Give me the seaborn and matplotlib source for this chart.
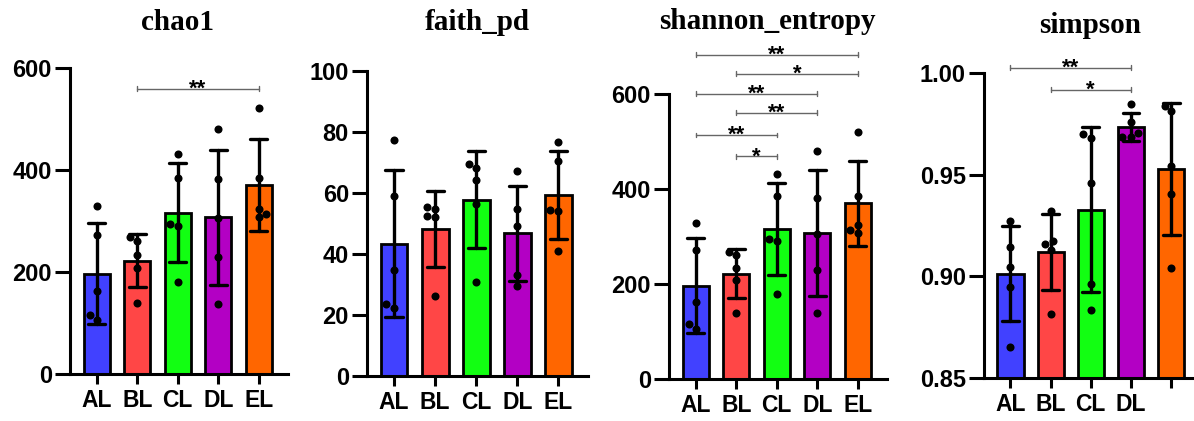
import pandas as pd
import matplotlib.pyplot as plt
import seaborn as sns

# groupes et couleurs
groups = ['AL', 'BL', 'CL', 'DL', 'EL']
colors = ['#4141FF', '#FF4646', '#12FF12', '#B300C4', '#FF6600']

# valeurs (5 échantillons par groupe)
chao1 = {
    'AL': [329, 272, 162, 106, 115],
    'BL': [268, 261, 234, 208, 139],
    'CL': [431, 385, 294, 290, 180],
    'DL': [481, 382, 305, 230, 138],
    'EL': [521, 385, 324, 307, 314],
}
faith_pd = {
    'AL': [77.5, 58.9, 34.9, 22.4, 23.5],
    'BL': [55.4, 54.9, 52.6, 52.1, 26.1],
    'CL': [69.6, 68.2, 64.2, 56.3, 30.8],
    'DL': [67.2, 54.9, 49.2, 33.0, 29.4],
    'EL': [76.7, 70.5, 54.5, 54.0, 41.0],
}
shannon_entropy = {
    'AL': [329, 272, 162, 106, 115],
    'BL': [268, 261, 234, 208, 139],
    'CL': [431, 385, 294, 290, 180],
    'DL': [481, 382, 305, 230, 138],
    'EL': [521, 385, 324, 307, 314],
}
simpson = {
    'AL': [0.9272, 0.9144, 0.9046, 0.8948, 0.8652],
    'BL': [0.9321, 0.9157, 0.9174, 0.9128, 0.8816],
    'CL': [0.9698, 0.9682, 0.9459, 0.8964, 0.8833],
    'DL': [0.9846, 0.9757, 0.9685, 0.9685, 0.9705],
    'EL': [0.9836, 0.9811, 0.9543, 0.9403, 0.9043],
}

# comparaisons significatives : (groupe1, groupe2, hauteur, étoiles)
sig_chao1 = [('BL', 'EL', 559, '**')]
sig_faith = []
sig_shannon = [('AL', 'EL', 683, '**'), ('BL', 'EL', 643, '*'),
               ('AL', 'DL', 601, '**'), ('BL', 'DL', 561, '**'),
               ('AL', 'CL', 514, '**'), ('BL', 'CL', 469, '*')]
sig_simpson = [('AL', 'DL', 1.0025, '**'), ('BL', 'DL', 0.9918, '*')]

yticks_chao1 = [0, 200, 400, 600]
yticks_faith = [0, 20, 40, 60, 80, 100]
yticks_shannon = [0, 200, 400, 600]
yticks_simpson = [0.85, 0.90, 0.95, 1.00]

# le dernier libellé du panneau simpson est coupé dans l'original
xlabels_full = ['AL', 'BL', 'CL', 'DL', 'EL']
xlabels_simpson = ['AL', 'BL', 'CL', 'DL', '']

sns.set_style("ticks")
plt.rcParams['font.family'] = ['Liberation Sans', 'DejaVu Sans']
plt.rcParams['font.weight'] = 'bold'
for k in ['text.color', 'xtick.color', 'ytick.color', 'axes.edgecolor', 'axes.labelcolor']:
    plt.rcParams[k] = 'black'

W, H = 1194, 421
fig = plt.figure(figsize=(W / 100, H / 100), dpi=100)

# (gauche, haut, droite, bas) en pixels, puis position du titre (centre x, ligne de base)
panels = [
    ('chao1', chao1, sig_chao1, yticks_chao1, (0, 600), '{:.0f}', xlabels_full, (70, 68, 288, 374), (177, 30)),
    ('faith_pd', faith_pd, sig_faith, yticks_faith, (0, 100), '{:.0f}', xlabels_full, (367, 71, 588, 376), (477, 30)),
    ('shannon_entropy', shannon_entropy, sig_shannon, yticks_shannon, (0, 600), '{:.0f}', xlabels_full, (669, 94, 887, 379), (767, 29)),
    ('simpson', simpson, sig_simpson, yticks_simpson, (0.85, 1.0), '{:.2f}', xlabels_simpson, (984, 73, 1200, 378), (1090, 33)),
]

for title, data, sigs, yticks, ylim, fmt, xlabels, box, tpos in panels:
    l, t, r, b = box
    ax = fig.add_axes([l / W, 1 - b / H, (r - l) / W, (b - t) / H])
    df = pd.DataFrame([(g, v) for g in groups for v in data[g]], columns=['groupe', 'valeur'])

    sns.barplot(data=df, x='groupe', y='valeur', hue='groupe', order=groups, hue_order=groups,
                palette=colors, saturation=1, errorbar='sd', capsize=0.42, width=0.65,
                edgecolor='black', linewidth=2, legend=False,
                err_kws={'color': 'black', 'linewidth': 2.4}, ax=ax)
    sns.swarmplot(data=df, x='groupe', y='valeur', order=groups, color='black',
                  size=5.8, ax=ax)

    ax.set_xlim(-0.66, 4.72)
    ax.set_ylim(*ylim)
    ax.set_yticks(yticks)
    ax.set_yticklabels([fmt.format(v) for v in yticks])
    ax.set_xticks(range(len(groups)))
    ax.set_xticklabels(xlabels)
    ax.set_xlabel('')
    ax.set_ylabel('')
    for s in ['top', 'right']:
        ax.spines[s].set_visible(False)
    for s in ['left', 'bottom']:
        ax.spines[s].set_linewidth(2.2)
    ax.tick_params(axis='y', length=11, width=2.2, pad=2, labelsize=17)
    ax.tick_params(axis='x', length=7, width=2.2, pad=4, labelsize=16.5)

    # crochets de significativité
    span = ylim[1] - ylim[0]
    for g1, g2, y, stars in sigs:
        x1, x2 = groups.index(g1), groups.index(g2)
        ax.plot([x1, x2], [y, y], color='#666666', lw=1, clip_on=False)
        for x in (x1, x2):
            ax.plot([x, x], [y - span * 0.008, y + span * 0.008], color='#666666', lw=1, clip_on=False)
        ax.annotate(stars, ((x1 + x2) / 2, y), xytext=(0, -4.5), textcoords='offset points',
                    ha='center', va='baseline', fontsize=16, annotation_clip=False)

    fig.text(tpos[0] / W, 1 - tpos[1] / H, title, ha='center', va='baseline',
             fontsize=21, fontweight='bold', family='Liberation Serif')

fig.savefig('out.png', dpi=100)
